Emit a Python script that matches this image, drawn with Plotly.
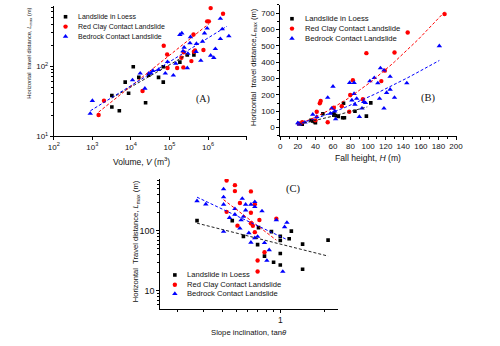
import plotly.graph_objects as go
import numpy as np

# ---------------- Panel A : Volume vs L_max ----------------
A_loess_V = [3.2e3, 3.2e3, 5.0e3, 7.1e3, 1.15e4, 8.7e3, 1.6e4, 2.4e4, 2.9e4, 5.2e4, 6.9e4, 6.9e4, 1.86e5, 2.9e5, 4.3e5]
A_loess_L = [38, 26, 23, 59, 98, 41, 69, 30, 74, 69, 98, 59, 114, 145, 145]
A_red_V = [1.45e3, 2.0e3, 2.0e4, 7.1e4, 8.7e4, 8.9e4, 1.58e5, 2.04e5, 2.34e5, 2.29e5, 3.7e5, 4.3e5, 4.6e5,
           4.2e5, 7.6e5, 9.5e5, 1.05e6, 1.17e6, 2.45e6]
A_red_L = [20, 32, 44, 196, 147, 94, 94, 132, 158, 96, 118, 161, 168, 284, 170, 437, 437, 676, 562]
A_blue_V = [8.8e2, 1.0e3, 1.1e4, 2.3e4, 1.74e4, 2.9e4, 3.3e4, 3.7e4, 5.2e4, 7.8e4, 8.9e4, 1.26e5, 1.45e5,
            1.86e5, 2.09e5, 2.24e5, 2.4e5, 2.9e5, 3.0e5, 3.4e5, 3.5e5, 4.9e5, 5.0e5, 6.5e5, 7.2e5, 8.1e5,
            9.5e5, 1.17e6, 1.41e6, 1.55e6, 2.09e6, 2.34e6, 2.09e6, 3.47e6]
A_blue_L = [21, 32, 63, 48, 79, 79, 79, 86, 89, 79, 115, 74, 109, 281, 296, 164, 185, 94, 151, 214, 261,
            161, 209, 120, 225, 296, 347, 142, 132, 177, 246, 338, 478, 269]
# fitted trend lines (end points)
A_fit_loess_V = [3.2e3, 3.0e5]
A_fit_loess_L = [35, 148]
A_fit_red_V = [1.45e3, 1.07e6]
A_fit_red_L = [22, 407]
A_fit_blue_V = [8.9e2, 3.1e6]
A_fit_blue_L = [23, 372]

# ---------------- Panel B : Fall height vs L_max ----------------
B_loess_H = [21, 25, 35, 37, 40, 39, 48.5, 61, 61, 63, 66, 71, 73, 72, 85, 98, 103]
B_loess_L = [24, 20, 44, 40, 30, 36, 84, 86, 76, 74, 68, 60, 60, 149, 100, 70, 151]
B_red_H = [22, 25, 41.5, 45, 46, 54, 61, 70, 78.5, 79.6, 82.6, 94, 98, 115, 119, 130, 145, 187, 40]
B_red_L = [24, 32, 97, 149, 163, 32, 121, 131, 97, 199, 290, 173, 455, 284, 348, 459, 581, 694, 44]
B_blue_H = [20, 22, 28, 37, 41.5, 54, 57, 58.5, 60, 62, 63, 79, 81.5, 84, 85, 84, 87, 90, 93, 95, 97,
            102, 107, 111, 113, 114, 118, 118, 121, 125, 125, 130, 144, 181]
B_blue_L = [28, 20, 32, 80, 66, 183, 86, 117, 251, 100, 52, 274, 167, 207, 141, 274, 177, 66, 117, 157,
            151, 284, 304, 272, 177, 364, 350, 117, 213, 233, 312, 183, 272, 499]
# power-law trend lines L = a * H^b (coefficients)
B_fit_loess = dict(a=0.533, b=1.19, H=[21, 99])
B_fit_red = dict(a=0.2024, b=1.56, H=[19, 187])
B_fit_blue = dict(a=0.387, b=1.34, H=[19, 181])

# ---------------- Panel C : Slope inclination vs L_max ----------------
C_loess_T = [0.27, 0.47, 0.56, 0.70, 0.71, 0.78, 0.87, 0.90, 1.0, 1.0, 1.0, 1.0, 1.15, 1.19, 1.42, 1.42, 2.12]
C_loess_L = [148, 148, 81, 59, 113, 38, 97, 30, 81, 69, 42, 27, 74, 99, 60, 23, 70]
C_red_T = [0.43, 0.49, 0.49, 0.43, 0.53, 0.63, 0.63, 0.63, 0.51, 0.65, 0.67, 0.67, 0.72, 0.70, 0.70, 0.78, 0.94]
C_red_L = [689, 575, 458, 207, 291, 453, 200, 134, 122, 121, 277, 95, 151, 32, 21, 44, 159]
C_blue_T = [0.27, 0.31, 0.41, 0.41, 0.41, 0.41, 0.45, 0.49, 0.49, 0.53, 0.54, 0.55, 0.56, 0.58, 0.58, 0.61,
            0.63, 0.63, 0.67, 0.67, 0.67, 0.70, 0.75, 0.78, 0.81, 0.84, 0.94, 1.04, 1.07, 1.11]
C_blue_L = [314, 277, 494, 365, 274, 97, 165, 232, 187, 110, 151, 343, 172, 274, 220, 92, 64, 274, 303,
            250, 76, 80, 213, 63, 32, 48, 151, 21, 116, 137]
C_fit_loess_T = [0.27, 2.12]
C_fit_loess_L = [134, 38]
C_fit_red_T = [0.41, 0.94]
C_fit_red_L = [330, 70]
C_fit_blue_T = [0.27, 1.09]
C_fit_blue_L = [363, 73]

legend_labels = ["Landslide in Loess", "Red Clay Contact Landslide", "Bedrock Contact Landslide"]

BLACK, RED, BLUE = "#000000", "#ff0000", "#0000ff"
SYMBOLS = ["square", "circle", "triangle-up"]
COLORS = [BLACK, RED, BLUE]
SIZES = [3.6, 4.4, 4.8]
LINECOL = ["#222222", RED, BLUE]
FONT = "Arial, Liberation Sans, sans-serif"

fig = go.Figure()


def add_points(xs, ys, k, xa, ya):
    fig.add_trace(go.Scatter(x=xs, y=ys, mode="markers", xaxis=xa, yaxis=ya, showlegend=False,
                             marker=dict(symbol=SYMBOLS[k], color=COLORS[k], size=SIZES[k], line=dict(width=0))))


def add_line(xs, ys, k, xa, ya):
    fig.add_trace(go.Scatter(x=xs, y=ys, mode="lines", xaxis=xa, yaxis=ya, showlegend=False,
                             line=dict(color=LINECOL[k], width=1, dash="3px,2px")))


# Panel A
add_points(A_loess_V, A_loess_L, 0, "x", "y")
add_points(A_red_V, A_red_L, 1, "x", "y")
add_points(A_blue_V, A_blue_L, 2, "x", "y")
add_line(A_fit_loess_V, A_fit_loess_L, 0, "x", "y")
add_line(A_fit_red_V, A_fit_red_L, 1, "x", "y")
add_line(A_fit_blue_V, A_fit_blue_L, 2, "x", "y")

# Panel B
add_points(B_loess_H, B_loess_L, 0, "x2", "y2")
add_points(B_red_H, B_red_L, 1, "x2", "y2")
add_points(B_blue_H, B_blue_L, 2, "x2", "y2")
for k, f in enumerate([B_fit_loess, B_fit_red, B_fit_blue]):
    hh = np.linspace(f["H"][0], f["H"][1], 60)
    add_line(hh, f["a"] * hh ** f["b"], k, "x2", "y2")

# Panel C
add_points(C_loess_T, C_loess_L, 0, "x3", "y3")
add_points(C_red_T, C_red_L, 1, "x3", "y3")
add_points(C_blue_T, C_blue_L, 2, "x3", "y3")
add_line(C_fit_loess_T, C_fit_loess_L, 0, "x3", "y3")
add_line(C_fit_red_T, C_fit_red_L, 1, "x3", "y3")
add_line(C_fit_blue_T, C_fit_blue_L, 2, "x3", "y3")

# ---- legends drawn on a pixel-space overlay axis ----
legend_specs = [  # marker x, text x, row y positions, font size
    (61, 72, [17, 27, 37], 7.0),
    (293, 304, [19, 29, 39], 7.7),
    (173, 183, [279, 289, 298], 7.6),
]
for mx, tx, rows, fs in legend_specs:
    for k in range(3):
        fig.add_trace(go.Scatter(x=[mx], y=[rows[k]], mode="markers", xaxis="x4", yaxis="y4", showlegend=False,
                                 marker=dict(symbol=SYMBOLS[k], color=COLORS[k], size=SIZES[k], line=dict(width=0))))
        fig.add_annotation(x=tx, y=rows[k], xref="x4", yref="y4", text=legend_labels[k], showarrow=False,
                           xanchor="left", yanchor="middle", font=dict(size=fs, color="#111", family=FONT))

axis_common = dict(showline=True, linecolor="black", linewidth=1, ticks="outside", tickcolor="black",
                   ticklen=3, tickwidth=1, showgrid=False, zeroline=False, mirror=False)

A_x_ticks = [1e2, 1e3, 1e4, 1e5, 1e6, 1e7]
A_x_text = ["10<sup>2</sup>", "10<sup>3</sup>", "10<sup>4</sup>", "10<sup>5</sup>", "10<sup>6</sup>", ""]
A_y_ticks = [10, 100]
A_y_text = ["10<sup>1</sup>", "10<sup>2</sup>"]
minor_log = [m * 10 ** e for e in range(0, 3) for m in range(2, 10)]

fig.update_layout(
    width=500, height=346, margin=dict(l=0, r=0, t=0, b=0),
    paper_bgcolor="white", plot_bgcolor="rgba(0,0,0,0)",
    font=dict(family=FONT, color="#111", size=8),
    xaxis=dict(axis_common, domain=[0.098, 0.493], type="log", range=[2, 7], anchor="y",
               tickmode="array", tickvals=A_x_ticks, ticktext=A_x_text, tickfont=dict(size=8)),
    yaxis=dict(axis_common, domain=[0.601, 0.983], type="log", range=[1, 2.863], anchor="x",
               tickmode="array", tickvals=A_y_ticks, ticktext=A_y_text, tickfont=dict(size=8),
               minor=dict(tickmode="array", tickvals=minor_log, ticks="outside", ticklen=2, tickcolor="black")),
    xaxis2=dict(axis_common, domain=[0.562, 0.924], range=[0, 201], anchor="y2", dtick=20,
                tickfont=dict(size=8), minor=dict(dtick=10, ticks="outside", ticklen=2, tickcolor="black")),
    yaxis2=dict(axis_common, domain=[0.602, 0.9855], range=[-50, 750], anchor="x2", dtick=100,
                tickfont=dict(size=8), minor=dict(dtick=50, ticks="outside", ticklen=2, tickcolor="black")),
    xaxis3=dict(axis_common, domain=[0.316, 0.68], type="log", range=[-0.82, 0.393], anchor="y3",
                tickmode="array", tickvals=[1], ticktext=["1"], tickfont=dict(size=8.5),
                minor=dict(tickmode="array", tickvals=[0.2, 0.3, 0.4, 0.5, 0.6, 0.7, 0.8, 0.9, 2],
                           ticks="outside", ticklen=2, tickcolor="black")),
    yaxis3=dict(axis_common, domain=[0.094, 0.475], type="log", range=[0.70, 2.862], anchor="x3",
                tickmode="array", tickvals=[10, 100], ticktext=["10", "100"], tickfont=dict(size=9),
                minor=dict(tickmode="array", tickvals=minor_log, ticks="outside", ticklen=2, tickcolor="black")),
    xaxis4=dict(domain=[0, 1], range=[0, 500], visible=False, anchor="y4", fixedrange=True),
    yaxis4=dict(domain=[0, 1], range=[346, 0], visible=False, anchor="x4", fixedrange=True),
)

# axis titles and panel labels
titles = [
    dict(x=24, y=54, text="Horizontal  travel distance, <i>L</i><sub>max</sub> (m)", angle=-90, size=5.8,
         family=FONT),
    dict(x=139, y=164, text="Volume, <i>V</i> (m<sup>3</sup>)", angle=0, size=8.5, family=FONT),
    dict(x=254, y=68, text="Horizontal  travel distance,<i>L</i><sub>max</sub> (m)", angle=-90, size=7.6, family=FONT),
    dict(x=371, y=160, text="Fall height, <i>H</i> (m)", angle=0, size=8.6, family=FONT),
    dict(x=249, y=337, text="Slope inclination, tan<i>θ</i>", angle=0, size=7.7, family=FONT),
    dict(x=134, y=245, text="Horizontal  Travel distance, <i>L</i><sub>max</sub> (m)", angle=-90, size=7.6,
         family=FONT),
    dict(x=202, y=100, text="(A)", angle=0, size=10, family="Liberation Serif, Times New Roman, serif"),
    dict(x=433, y=99, text="(B)", angle=0, size=10.5, family="Liberation Serif, Times New Roman, serif"),
    dict(x=295, y=192, text="(C)", angle=0, size=10.5, family="Liberation Serif, Times New Roman, serif"),
]
for t in titles:
    fig.add_annotation(x=t["x"], y=t["y"], xref="x4", yref="y4", text=t["text"], textangle=t["angle"],
                       showarrow=False, xanchor="center", yanchor="middle",
                       font=dict(size=t["size"], family=t["family"], color="#111"))

fig.write_html("out.html")
